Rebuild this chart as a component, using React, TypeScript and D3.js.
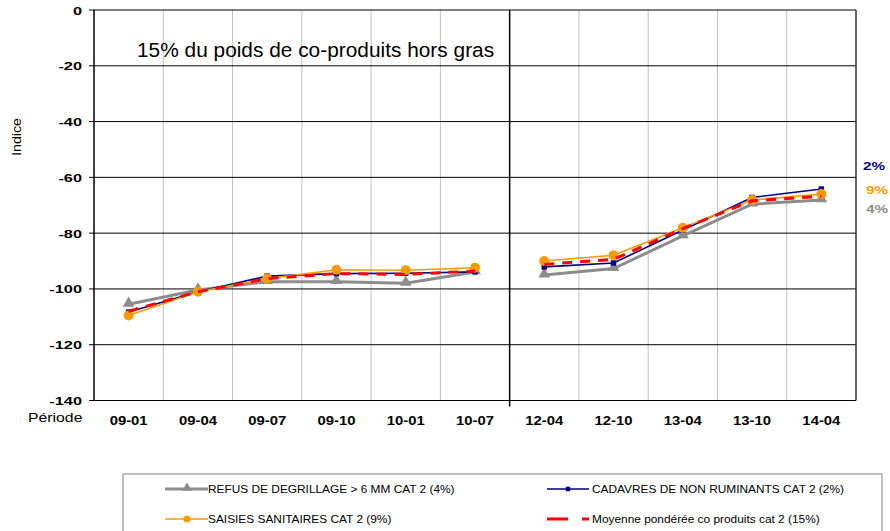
import React from 'react';
import * as d3 from 'd3';

const periods = ['09-01', '09-04', '09-07', '09-10', '10-01', '10-07', '12-04', '12-10', '13-04', '13-10', '14-04'];
const refus = [-105.5, -100.4, -97.4, -97.4, -98, -93.9, -95, -92.7, -81, -69.6, -68.1];
const cadavres = [-108.3, -101, -95.4, -94.5, -94.4, -93.9, -92.1, -90.7, -78.9, -67.2, -64.2];
const saisies = [-109.5, -101, -96.3, -93.1, -93.3, -92.4, -90, -87.9, -78.1, -68.1, -66];
const moyenne = [-108, -101, -96.3, -94.5, -94.8, -93.6, -91.2, -89.4, -78.4, -68.4, -66.8];
const yTicks = [0, -20, -40, -60, -80, -100, -120, -140];
const breakAfter = 5;

const W = 890;
const H = 531;
const left = 94;
const right = 856;
const top = 10;
const bottom = 400.5;
const font = '"Liberation Sans", Arial, sans-serif';

// stretched text, the original export is wider than Arial
const T = ({x, y, sx = 1, size, bold, fill = '#000', anchor = 'start', children}: any) => (
  <text
    transform={`translate(${x},${y}) scale(${sx},1)`}
    fontSize={size}
    fontWeight={bold ? 'bold' : 'normal'}
    fill={fill}
    textAnchor={anchor}
  >
    {children}
  </text>
);

export default function App() {
  const x = d3.scaleBand().domain(periods).range([left, right]).padding(0);
  const y = d3.scaleLinear().domain([-140, 0]).range([bottom, top]);
  const cx = (p: string) => (x(p) as number) + x.bandwidth() / 2;

  const line = d3
    .line<[string, number]>()
    .x(d => cx(d[0]))
    .y(d => y(d[1]));

  const segs = (vals: number[]) => {
    const pts = periods.map((p, i) => [p, vals[i]] as [string, number]);
    return [pts.slice(0, breakAfter + 1), pts.slice(breakAfter + 1)];
  };

  const tri = d3.symbol(d3.symbolTriangle, 60)() as string;
  const sq = d3.symbol(d3.symbolSquare, 30)() as string;

  return (
    <svg width={W} height={H} style={{position: 'absolute', left: 0, top: 0}} fontFamily={font}>
      <rect width={W} height={H} fill="#fff" />
      {/* vertical grid */}
      {periods.slice(1).map((p, i) => {
        const sep = i + 1 === breakAfter + 1;
        return (
          <line
            key={p}
            x1={x(p)}
            x2={x(p)}
            y1={top}
            y2={sep ? bottom + 6 : bottom}
            stroke={sep ? '#000' : '#c0c0c0'}
            strokeWidth={sep ? 1.5 : 1}
          />
        );
      })}
      {/* horizontal grid */}
      {yTicks.map(t => (
        <g key={t}>
          <line x1={left - 5} x2={right} y1={y(t)} y2={y(t)} stroke="#000" strokeWidth={1} />
          <T x={82} y={y(t) + 4.5} sx={1.42} size={11.5} bold anchor="end">
            {t}
          </T>
        </g>
      ))}
      <line x1={left} x2={left} y1={top} y2={bottom} stroke="#000" strokeWidth={1.5} />
      <line x1={right} x2={right} y1={top} y2={bottom} stroke="#333" strokeWidth={1.5} />

      <T x={137} y={57} sx={1.07} size={19.5}>15% du poids de co-produits hors gras</T>
      <text transform="translate(21,137) rotate(-90) scale(1.18,1)" textAnchor="middle" fontSize={12}>
        Indice
      </text>
      <T x={28} y={421.5} sx={1.17} size={13.5}>Période</T>
      {periods.map(p => (
        <T key={p} x={cx(p)} y={425} sx={1.19} size={12.5} bold anchor="middle">
          {p}
        </T>
      ))}

      {/* series */}
      {segs(refus).map((s, i) => (
        <path key={'r' + i} d={line(s) as string} fill="none" stroke="#8c8c8c" strokeWidth={3} />
      ))}
      {periods.map((p, i) => (
        <path key={'rt' + p} d={tri} transform={`translate(${cx(p)},${y(refus[i]) - 1})`} fill="#8c8c8c" />
      ))}
      {segs(cadavres).map((s, i) => (
        <path key={'c' + i} d={line(s) as string} fill="none" stroke="#000080" strokeWidth={1.6} />
      ))}
      {periods.map((p, i) => (
        <path key={'cs' + p} d={sq} transform={`translate(${cx(p)},${y(cadavres[i])})`} fill="#000080" />
      ))}
      {segs(saisies).map((s, i) => (
        <path key={'s' + i} d={line(s) as string} fill="none" stroke="#ff9900" strokeWidth={1.6} />
      ))}
      {periods.map((p, i) => (
        <circle key={'sc' + p} cx={cx(p)} cy={y(saisies[i])} r={5} fill="#ff9900" />
      ))}
      {segs(moyenne).map((s, i) => (
        <path
          key={'m' + i}
          d={line(s) as string}
          fill="none"
          stroke="#ff0000"
          strokeWidth={3}
          strokeDasharray="10,8"
        />
      ))}

      <T x={863} y={170} sx={1.33} size={11.5} bold fill="#000080">2%</T>
      <T x={866} y={193.5} sx={1.33} size={11.5} bold fill="#ff9900">9%</T>
      <T x={866} y={212.5} sx={1.33} size={11.5} bold fill="#8c8c8c">4%</T>

      {/* legend */}
      <rect x={123} y={474} width={759} height={62} fill="#fff" stroke="#808080" strokeWidth={1} />
      <line x1={165} x2={208} y1={489} y2={489} stroke="#8c8c8c" strokeWidth={3} />
      <path d={d3.symbol(d3.symbolTriangle, 40)() as string} transform="translate(187,488)" fill="#8c8c8c" />
      <T x={208} y={493} sx={1.11} size={10.7}>REFUS DE DEGRILLAGE &gt; 6 MM CAT 2 (4%)</T>
      <line x1={547} x2={589} y1={489} y2={489} stroke="#000080" strokeWidth={1.6} />
      <path d={d3.symbol(d3.symbolSquare, 20)() as string} transform="translate(568,489)" fill="#000080" />
      <T x={592} y={493} sx={1.11} size={10.7}>CADAVRES DE NON RUMINANTS CAT 2 (2%)</T>
      <line x1={165} x2={208} y1={519} y2={519} stroke="#ff9900" strokeWidth={1.6} />
      <circle cx={187} cy={519} r={3.5} fill="#ff9900" />
      <T x={208} y={523} sx={1.11} size={10.7}>SAISIES SANITAIRES CAT 2 (9%)</T>
      <line x1={547} x2={589} y1={519} y2={519} stroke="#ff0000" strokeWidth={3} strokeDasharray="21,14" />
      <T x={592} y={523} sx={1.11} size={10.7}>Moyenne pondérée co produits cat 2 (15%)</T>
    </svg>
  );
}
